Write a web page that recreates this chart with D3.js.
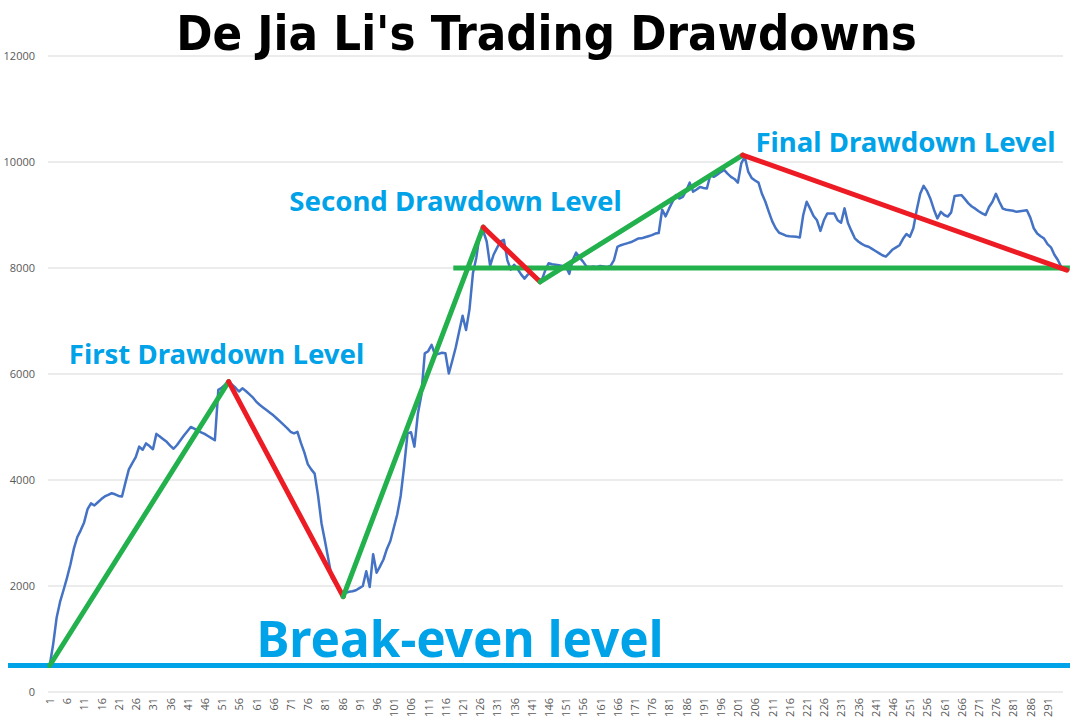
<!DOCTYPE html>
<html>
<head>
<meta charset="utf-8">
<script src="https://cdn.jsdelivr.net/npm/d3@7"></script>
<style>
  body { margin: 0; background: #fff; }
  svg { display: block; }
</style>
</head>
<body>
<svg id="chart" width="1078" height="725"></svg>
<script>
// equity curve, one value per trading day
const equity = [
  500, 900, 1400, 1700, 1920, 2150, 2400, 2700, 2920, 3050,
  3200, 3450, 3560, 3520, 3580, 3640, 3690, 3720, 3750, 3730,
  3700, 3690, 3950, 4200, 4320, 4430, 4630, 4570, 4690, 4640,
  4580, 4870, 4820, 4770, 4720, 4650, 4590, 4660, 4750, 4840,
  4920, 5000, 4970, 4930, 4900, 4870, 4830, 4790, 4750, 5700,
  5740, 5800, 5855, 5800, 5740, 5670, 5730, 5680, 5620, 5560,
  5480, 5420, 5370, 5320, 5270, 5220, 5160, 5100, 5040, 4980,
  4910, 4880, 4910, 4700, 4520, 4300, 4200, 4120, 3700, 3180,
  2850, 2500, 2150, 2050, 1950, 1860, 1870, 1890, 1900, 1920,
  1960, 2000, 2280, 1980, 2600, 2250, 2370, 2500, 2700, 2850,
  3100, 3350, 3700, 4250, 4880, 4900, 4630, 5250, 5600, 6390,
  6430, 6550, 6360, 6380, 6400, 6390, 6010, 6250, 6500, 6800,
  7100, 6830, 7220, 7900, 8200, 8650, 8700, 8500, 8040, 8250,
  8380, 8500, 8530, 8150, 7970, 8060, 7980, 7880, 7800, 7880,
  7900, 7850, 7800, 7770, 7950, 8090, 8070, 8060, 8050, 8040,
  8030, 7890, 8150, 8290, 8200, 8120, 8030, 8020, 8030, 8020,
  8040, 8030, 8020, 8040, 8150, 8400, 8430, 8450, 8470, 8490,
  8520, 8555, 8560, 8580, 8600, 8620, 8650, 8660, 9100, 8975,
  9120, 9250, 9375, 9310, 9340, 9460, 9610, 9440, 9480, 9530,
  9510, 9500, 9755, 9720, 9760, 9810, 9850, 9780, 9720, 9680,
  9610, 9975, 10100, 9820, 9700, 9650, 9610, 9400, 9250, 9060,
  8880, 8750, 8665, 8640, 8610, 8600, 8595, 8590, 8575,
  9000, 9250, 9120, 8980, 8900, 8700, 8900, 9030, 9030, 9030,
  8900, 8855, 9125, 8850, 8700, 8560, 8500, 8455, 8420, 8400,
  8360, 8320, 8280, 8240, 8215, 8280, 8350, 8390, 8430, 8550,
  8640, 8590, 8750, 9100, 9400, 9550, 9450, 9300, 9100, 8935,
  9060, 9000, 8970, 9050, 9360, 9370, 9375, 9300, 9220, 9160,
  9120, 9070, 9030, 9000, 9150, 9250, 9400, 9250, 9120, 9100,
  9090, 9080, 9060, 9070, 9080, 9090, 8950, 8750, 8650, 8600,
  8555, 8450, 8390, 8250, 8150, 8020
];
const days = equity.map((d, i) => i + 1);

// hand drawn swing lines: [day, value]
const swings = [[1, 500], [53, 5855], [86.3, 1800], [127, 8770], [143.5, 7740], [202.4, 10130], [296.6, 7960]];
const floorLevel = { from: 118.3, to: 297.5, value: 8000 };
const breakEven = 500;

const yTicks = [0, 2000, 4000, 6000, 8000, 10000, 12000];
const xTickEvery = 5;

const labels = [
  { text: "First Drawdown Level", x: 216.5, y: 364 },
  { text: "Second Drawdown Level", x: 455.5, y: 211 },
  { text: "Final Drawdown Level", x: 905.5, y: 152 }
];

const svg = d3.select("#chart");
const plot = { left: 48, right: 1063, top: 56, bottom: 692 };

const x = d3.scaleLinear()
    .domain([0.5, equity.length + 0.5])
    .range([plot.left, plot.right]);

const y = d3.scaleLinear()
    .domain([0, 12000])
    .range([plot.bottom, plot.top]);

//grille
svg.append("g")
    .selectAll("line")
    .data(yTicks)
    .enter()
    .append("line")
    .attr("x1", plot.left)
    .attr("x2", plot.right)
    .attr("y1", d => y(d))
    .attr("y2", d => y(d))
    .attr("stroke", "#d9d9d9")
    .attr("stroke-width", 1);

// axe y
const yAxis = svg.append("g")
    .attr("transform", "translate(" + (plot.left - 10) + ",0)")
    .call(d3.axisLeft(y).tickValues(yTicks).tickSize(0).tickFormat(d3.format("d")));
yAxis.select(".domain").remove();
yAxis.selectAll("text")
    .attr("fill", "#595959")
    .style("font-family", "'Open Sans', sans-serif")
    .style("font-size", "11px");

// axe x
const xAxis = svg.append("g")
    .attr("transform", "translate(0," + (plot.bottom + 6) + ")")
    .call(d3.axisBottom(x)
        .tickValues(days.filter(d => (d - 1) % xTickEvery === 0))
        .tickSize(0)
        .tickFormat(d3.format("d")));
xAxis.select(".domain").remove();
xAxis.selectAll("text")
    .attr("fill", "#595959")
    .style("font-family", "'Open Sans', sans-serif")
    .style("font-size", "11px")
    .attr("text-anchor", "end")
    .attr("transform", "rotate(-90)")
    .attr("x", 0)
    .attr("y", 0)
    .attr("dx", 0)
    .attr("dy", "0.35em");

// break-even
svg.append("line")
    .attr("x1", 8)
    .attr("x2", 1070)
    .attr("y1", y(breakEven))
    .attr("y2", y(breakEven))
    .attr("stroke", "#00a2e8")
    .attr("stroke-width", 5);

// courbe
const line = d3.line()
    .x((d, i) => x(i + 1))
    .y(d => y(d));

svg.append("path")
    .datum(equity)
    .attr("d", line)
    .attr("fill", "none")
    .attr("stroke", "#4472c4")
    .attr("stroke-width", 2.5)
    .attr("stroke-linejoin", "round");

// niveaux
svg.append("line")
    .attr("x1", x(floorLevel.from))
    .attr("x2", x(floorLevel.to))
    .attr("y1", y(floorLevel.value))
    .attr("y2", y(floorLevel.value))
    .attr("stroke", "#22b14c")
    .attr("stroke-width", 5);

const segs = d3.pairs(swings);
svg.append("g")
    .selectAll("line")
    .data(segs)
    .enter()
    .append("line")
    .attr("x1", d => x(d[0][0]))
    .attr("y1", d => y(d[0][1]))
    .attr("x2", d => x(d[1][0]))
    .attr("y2", d => y(d[1][1]))
    .attr("stroke", d => d[1][1] > d[0][1] ? "#22b14c" : "#ed1c24")
    .attr("stroke-width", 5)
    .attr("stroke-linecap", "round");

// textes
svg.selectAll(".lvl")
    .data(labels)
    .enter()
    .append("text")
    .attr("class", "lvl")
    .attr("x", d => d.x)
    .attr("y", d => d.y)
    .attr("text-anchor", "middle")
    .attr("fill", "#00a2e8")
    .style("font-family", "'Noto Sans', sans-serif")
    .style("font-weight", "bold")
    .style("font-size", "27.6px")
    .text(d => d.text);

svg.append("text")
    .attr("x", 460)
    .attr("y", 657)
    .attr("text-anchor", "middle")
    .attr("fill", "#00a2e8")
    .style("font-family", "'Noto Sans', sans-serif")
    .style("font-weight", "bold")
    .style("font-size", "49.5px")
    .text("Break-even level");

svg.append("text")
    .attr("x", 546.5)
    .attr("y", 50)
    .attr("text-anchor", "middle")
    .attr("fill", "#000")
    .style("font-family", "'DejaVu Sans Condensed', 'DejaVu Sans', sans-serif")
    .style("font-weight", "bold")
    .style("font-size", "48.6px")
    .text("De Jia Li's Trading Drawdowns");
</script>
</body>
</html>
